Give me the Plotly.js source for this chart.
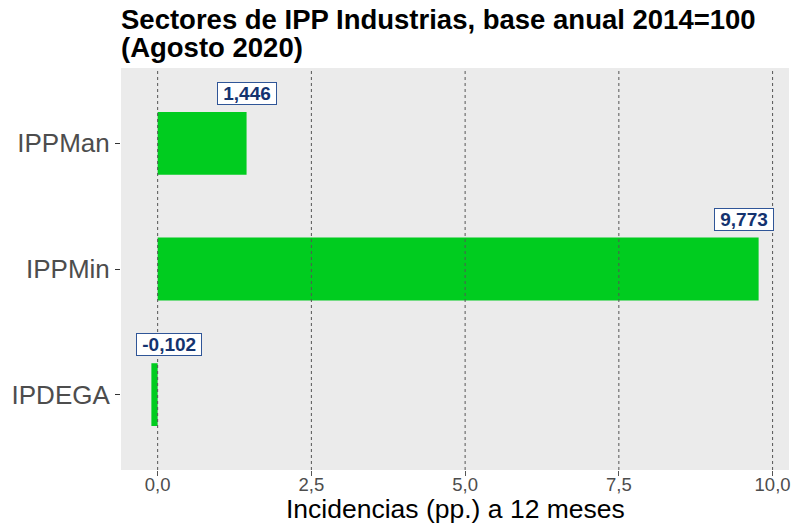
<!DOCTYPE html>
<html>
<head>
<meta charset="utf-8">
<script src="https://cdn.plot.ly/plotly-3.0.1.min.js"></script>
<style>html,body{margin:0;padding:0;background:#fff}#chart{width:794px;height:525px}</style>
</head>
<body>
<div id="chart"></div>
<script>
// Data (bottom to top)
const categories = ["IPDEGA", "IPPMin", "IPPMan"];
const values = [-0.102, 9.773, 1.446];
const labels = ["-0,102", "9,773", "1,446"];
const tickVals = [0, 2.5, 5, 7.5, 10];
const tickText = ["0,0", "2,5", "5,0", "7,5", "10,0"];
const titleLines = ["Sectores de IPP Industrias, base anual 2014=100", "(Agosto 2020)"];
const xTitle = "Incidencias (pp.) a 12 meses";
// label horizontal offsets (pixels), as placed in the reference
const labelShift = [18, -15, 0];

const FONT = "Liberation Sans, Arial, sans-serif";

const trace = {
  type: "bar",
  orientation: "h",
  y: categories,
  x: values,
  width: 0.5,
  marker: {color: "#00CC1F"},
  hoverinfo: "skip"
};

const shapes = tickVals.map(v => ({
  type: "line", xref: "x", yref: "paper", x0: v, x1: v, y0: 0, y1: 1,
  layer: "above", line: {color: "#555555", width: 1, dash: "3px,3px"}
}));

const annotations = categories.map((c, i) => ({
  xref: "x", yref: "y", x: values[i], y: c,
  xshift: labelShift[i], yshift: 50,
  text: "<b>&nbsp;" + labels[i] + "&nbsp;</b>",
  showarrow: false,
  font: {family: FONT, size: 19, color: "#14336F"},
  bgcolor: "#FFFFFF", bordercolor: "#2F5597", borderwidth: 1, borderpad: 0
}));

titleLines.forEach((t, i) => {
  annotations.push({
    xref: "paper", yref: "paper", x: 0, y: 1, xanchor: "left", yanchor: "top",
    xshift: -2, yshift: 66 - i * 28,
    text: "<b>" + t + "</b>", showarrow: false,
    font: {family: FONT, size: 27.5, color: "#000000"}
  });
});

annotations.push({
  xref: "paper", yref: "paper", x: 0.5, y: 0, xanchor: "center", yanchor: "bottom",
  yshift: -56, text: xTitle, showarrow: false,
  font: {family: FONT, size: 26.5, color: "#000000"}
});

const layout = {
  width: 794, height: 525,
  margin: {l: 121, r: 5, t: 68, b: 55},
  paper_bgcolor: "#FFFFFF",
  plot_bgcolor: "#EBEBEB",
  separators: ",.",
  font: {family: FONT},
  xaxis: {
    range: [-0.596, 10.267],
    tickvals: tickVals, ticktext: tickText,
    showgrid: false, zeroline: false,
    ticks: "outside", ticklen: 5, tickcolor: "#555555",
    ticklabelstandoff: -7,
    tickfont: {size: 18.5, color: "#4D4D4D"}
  },
  yaxis: {
    type: "category",
    categoryorder: "array", categoryarray: categories,
    range: [-0.6, 2.6],
    showgrid: false, zeroline: false,
    ticks: "outside", ticklen: 5, tickcolor: "#333333",
    tickfont: {size: 26, color: "#4D4D4D"}
  },
  shapes: shapes,
  annotations: annotations,
  showlegend: false
};

Plotly.newPlot("chart", [trace], layout, {displayModeBar: false, staticPlot: true});
</script>
</body>
</html>
